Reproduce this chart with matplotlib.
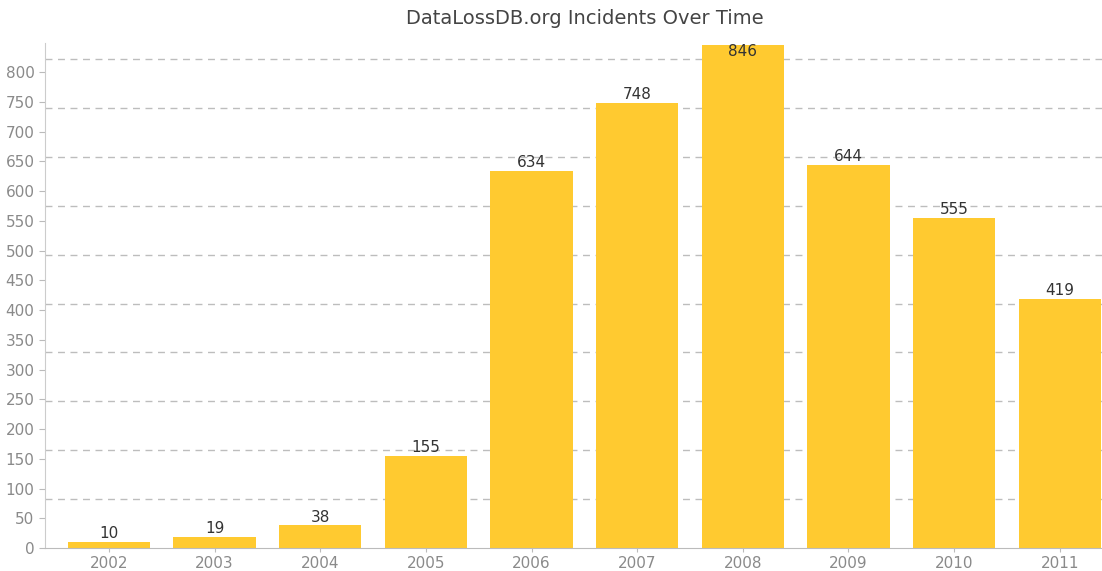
import numpy as np
import matplotlib
matplotlib.use('Agg')
import matplotlib.pyplot as plt

plt.rcParams['font.family'] = ['DejaVu Sans']

years = ['2002', '2003', '2004', '2005', '2006', '2007', '2008', '2009', '2010', '2011']
incidents = [10, 19, 38, 155, 634, 748, 846, 644, 555, 419]
ytick_vals = list(range(0, 801, 50))

fig = plt.figure(figsize=(11.02, 5.71), dpi=100)
ax = fig.add_axes([45/1102, 1 - 548/571, 1 - 45/1102, (548 - 43)/571])

ind = np.arange(len(years))
ymax = 849

# dashed grid, spaced on its own step (not on the ticks)
for g in np.arange(82.2, ymax, 82.2):
    ax.axhline(g, color='#bdbdbd', lw=1, ls=(0, (5, 4)), zorder=0)

rects = ax.bar(ind, incidents, 0.78, color='#ffca30', zorder=2)

for rect, v in zip(rects, incidents):
    x = rect.get_x() + rect.get_width()/2.
    if v > ymax - 20:
        ax.text(x, ymax - 2, '%d' % v, ha='center', va='top', fontsize=11, color='#333333', zorder=3)
    else:
        ax.text(x, v + 1, '%d' % v, ha='center', va='bottom', fontsize=11, color='#333333', zorder=3)

ax.set_xlim(-0.606, 9.40)
ax.set_ylim(0, ymax)
ax.set_xticks(ind)
ax.set_xticklabels(years)
ax.set_yticks(ytick_vals)
ax.tick_params(axis='both', colors='#bbbbbb', labelcolor='#8a8a8a', labelsize=11, length=4)
ax.tick_params(axis='x', length=3, pad=3)

for s in ['top', 'right']:
    ax.spines[s].set_visible(False)
ax.spines['left'].set_color('#cccccc')
ax.spines['bottom'].set_color('#bbbbbb')

fig.text(0.531, 1 - 18/571, 'DataLossDB.org Incidents Over Time', ha='center', va='center',
         fontsize=14, color='#444444')

fig.savefig('out.png', dpi=100)
